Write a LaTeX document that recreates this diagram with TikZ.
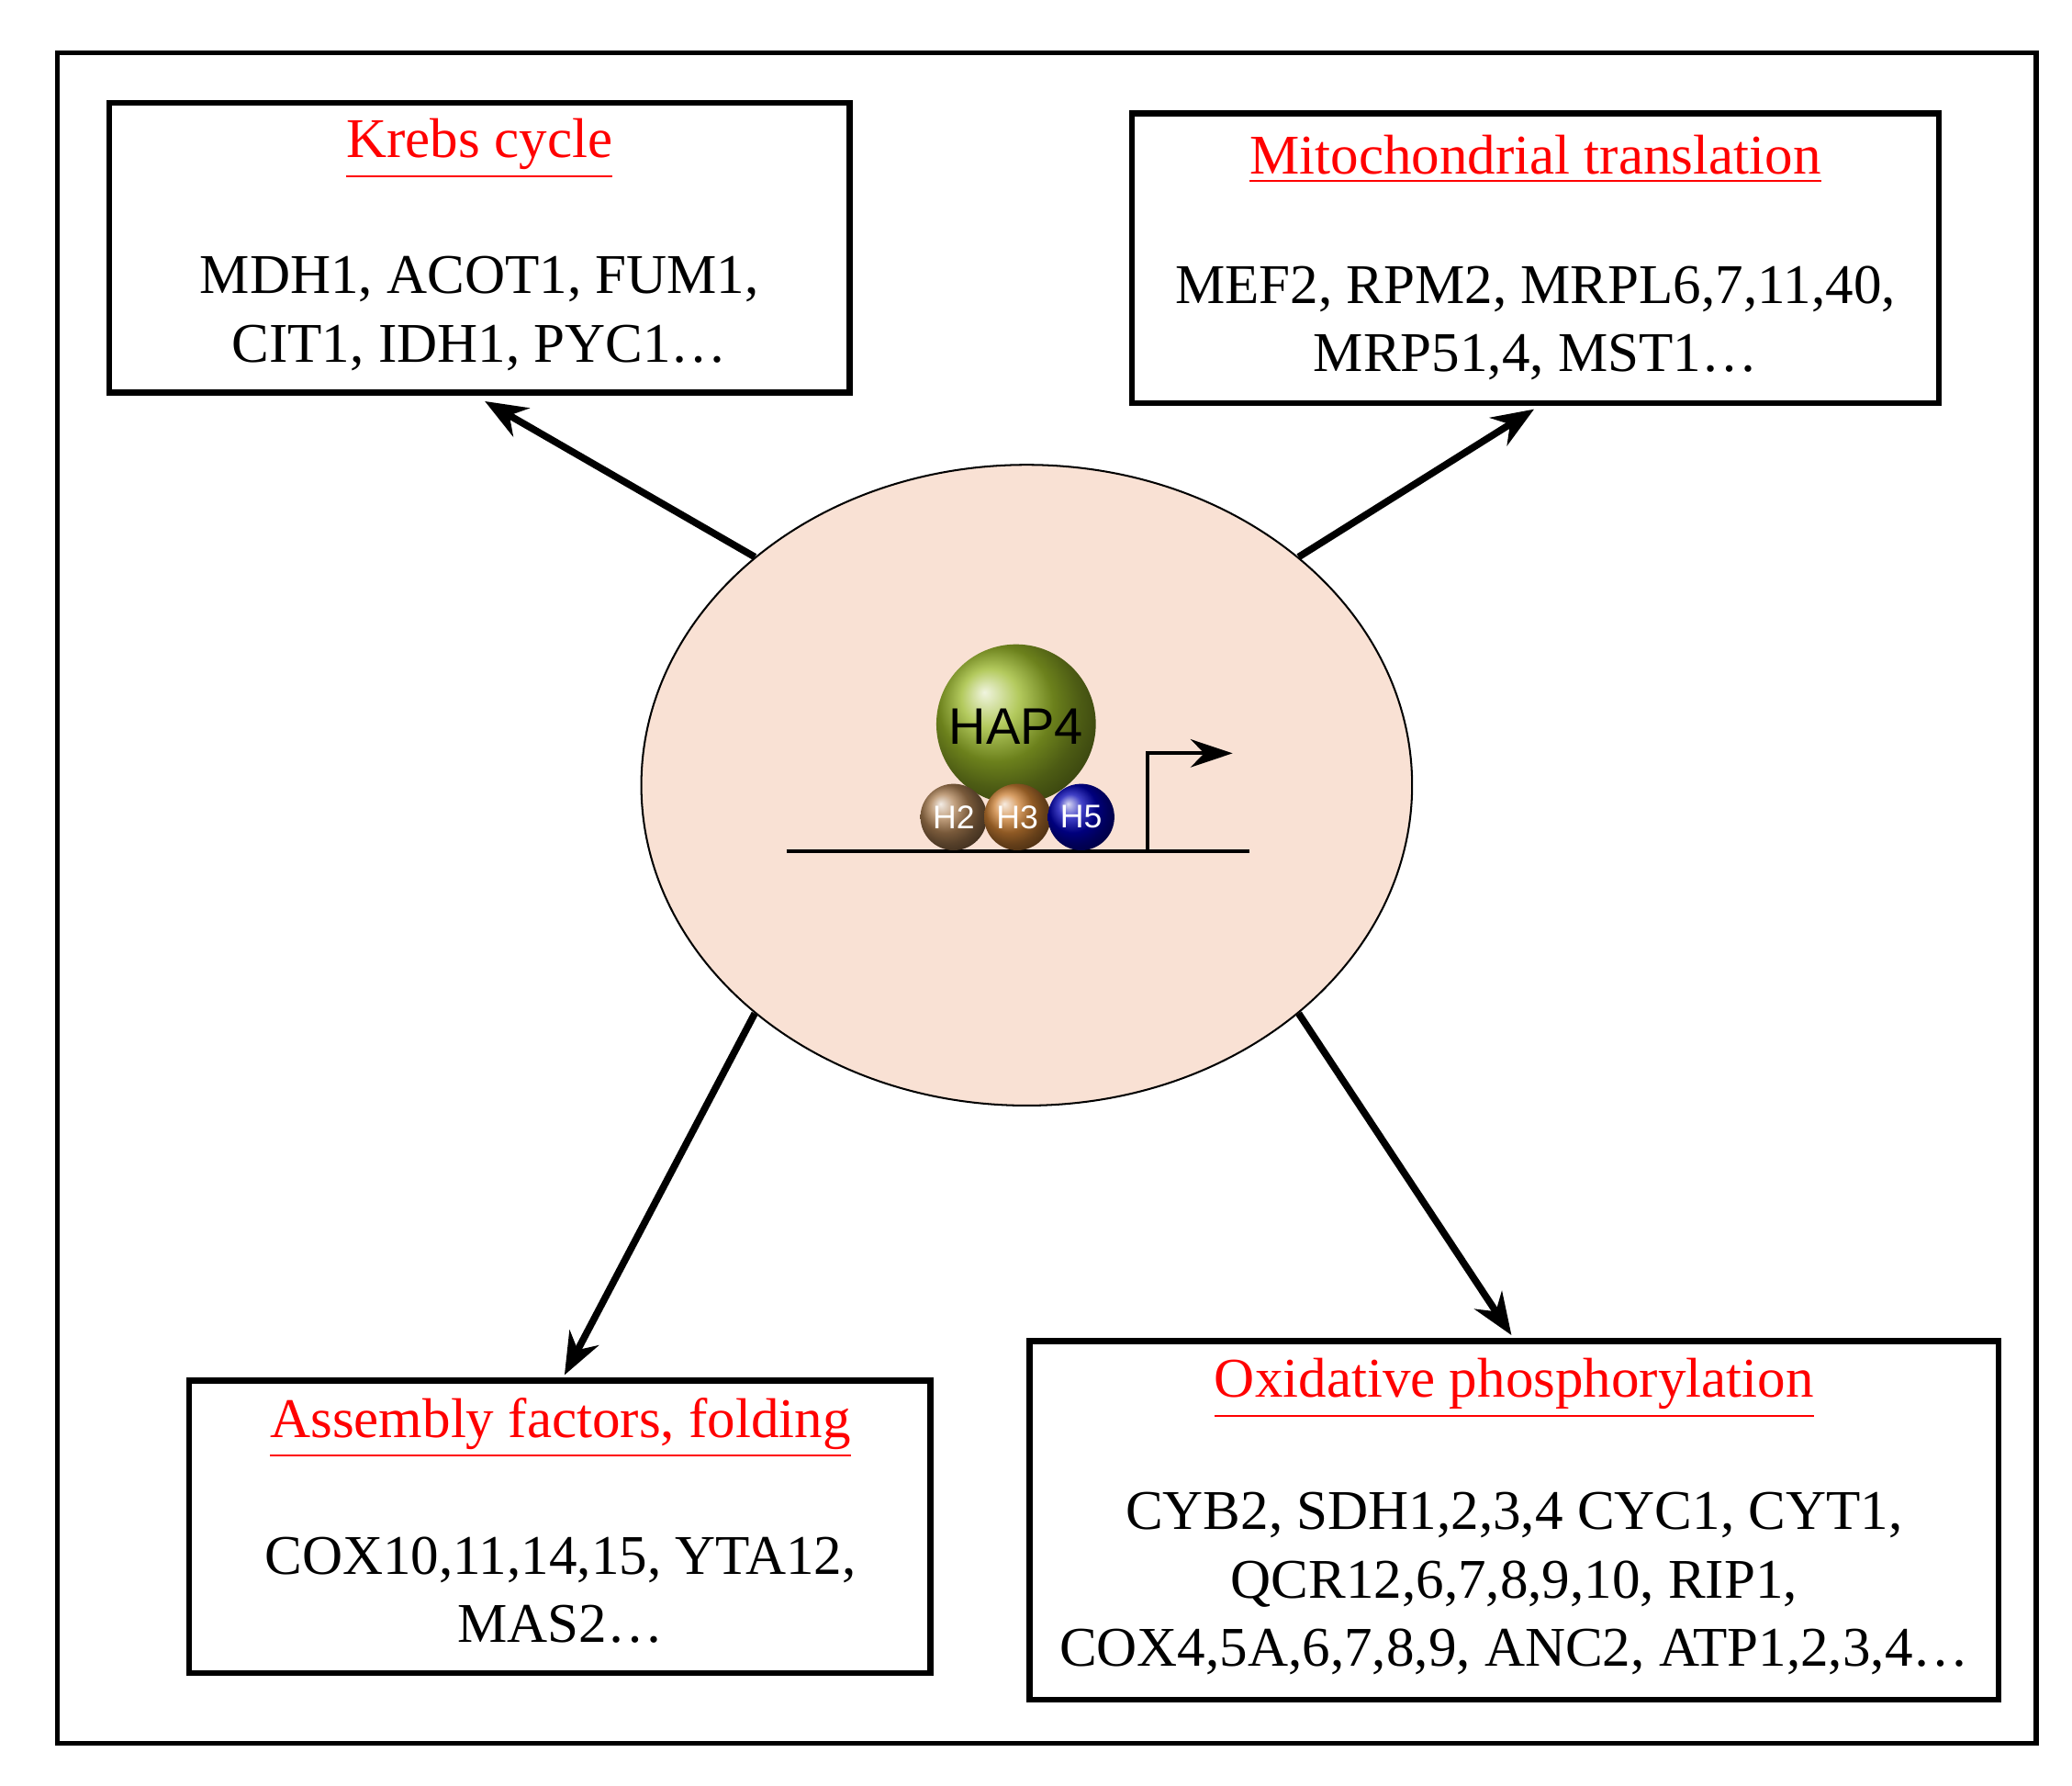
\documentclass[tikz,border=0pt]{standalone}
\usepackage{fontspec}
\setmainfont{Liberation Serif}
\newfontfamily\sansf{Liberation Sans}
\usetikzlibrary{shapes.geometric,arrows.meta}
\definecolor{peach}{HTML}{F9E1D4}
\definecolor{hapgreen}{HTML}{9AB828}
\begin{document}
\begin{tikzpicture}[x=0.01cm,y=-0.01cm,
  box/.style={draw,line width=1.3pt,anchor=north west,inner sep=0pt},
  ttl/.style={text=red,font=\fontsize{12}{14}\selectfont},
  genes/.style={align=center,font=\fontsize{12}{14.6}\selectfont},
  link/.style={line width=1.5pt,-{Stealth[length=9pt,width=7pt]}}]
\useasboundingbox (0,0) rectangle (1560,1344);
\draw[line width=1pt] (43,40) rectangle (1533,1312);
% boxes
\node[box,minimum width=5.57cm,minimum height=2.18cm] (krebs) at (80,75) {};
\node[box,minimum width=6.07cm,minimum height=2.18cm] (mito) at (850,83) {};
\node[box,minimum width=5.58cm,minimum height=2.2cm] (assem) at (140,1037) {};
\node[box,minimum width=7.29cm,minimum height=2.7cm] (oxph) at (773,1007) {};
\node[ttl] (krebsT) at (361,112) {\underline{Krebs cycle}};
\node[genes] (krebsG) at (361,236) {MDH1, ACOT1, FUM1,\\CIT1, IDH1, PYC1\dots};
\node[ttl] (mitoT) at (1156,120) {\underline{Mitochondrial translation}};
\node[genes] (mitoG) at (1156,243) {MEF2, RPM2, MRPL6,7,11,40,\\MRP51,4, MST1\dots};
\node[ttl] (assemT) at (422,1075) {\underline{Assembly factors, folding}};
\node[genes] (assemG) at (422,1197) {COX10,11,14,15, YTA12,\\MAS2\dots};
\node[ttl] (oxphT) at (1140,1045) {\underline{Oxidative phosphorylation}};
\node[genes] (oxphG) at (1140,1192) {CYB2, SDH1,2,3,4 CYC1, CYT1,\\QCR12,6,7,8,9,10, RIP1,\\COX4,5A,6,7,8,9, ANC2, ATP1,2,3,4\dots};
% nucleus
\node[ellipse,draw,fill=peach,minimum width=5.8cm,minimum height=4.82cm] (nuc) at (773,591) {};
\draw[line width=0.8pt] (592,641) coordinate (dnaL) -- (941,641) coordinate (dnaR);
\draw[line width=0.8pt,-{Stealth[length=9pt,width=6pt]}] (864,641) -- (864,567) -- (928,567);
\shade[ball color=hapgreen] (765,545) circle (0.6cm);
\node[font=\sansf\fontsize{11}{13}\selectfont] (hap) at (765,547) {HAP4};
\foreach \nm/\xx/\cc in {H2/718/brown!70!gray, H3/766/brown!80!orange, H5/814/blue!70!black}
  {\shade[ball color=\cc] (\xx,615) circle (0.25cm);
   \node[text=white,font=\sansf\fontsize{7}{8}\selectfont] (\nm) at (\xx,615) {\nm};}
% connectors
\coordinate (kE) at (365,302); \coordinate (mE) at (1155,308);
\coordinate (aE) at (425,1035); \coordinate (oE) at (1138,1005);
\draw[link] (nuc.140) -- (kE);
\draw[link] (nuc.40) -- (mE);
\draw[link] (nuc.-140) -- (aE);
\draw[link] (nuc.-40) -- (oE);
\end{tikzpicture}
\end{document}
